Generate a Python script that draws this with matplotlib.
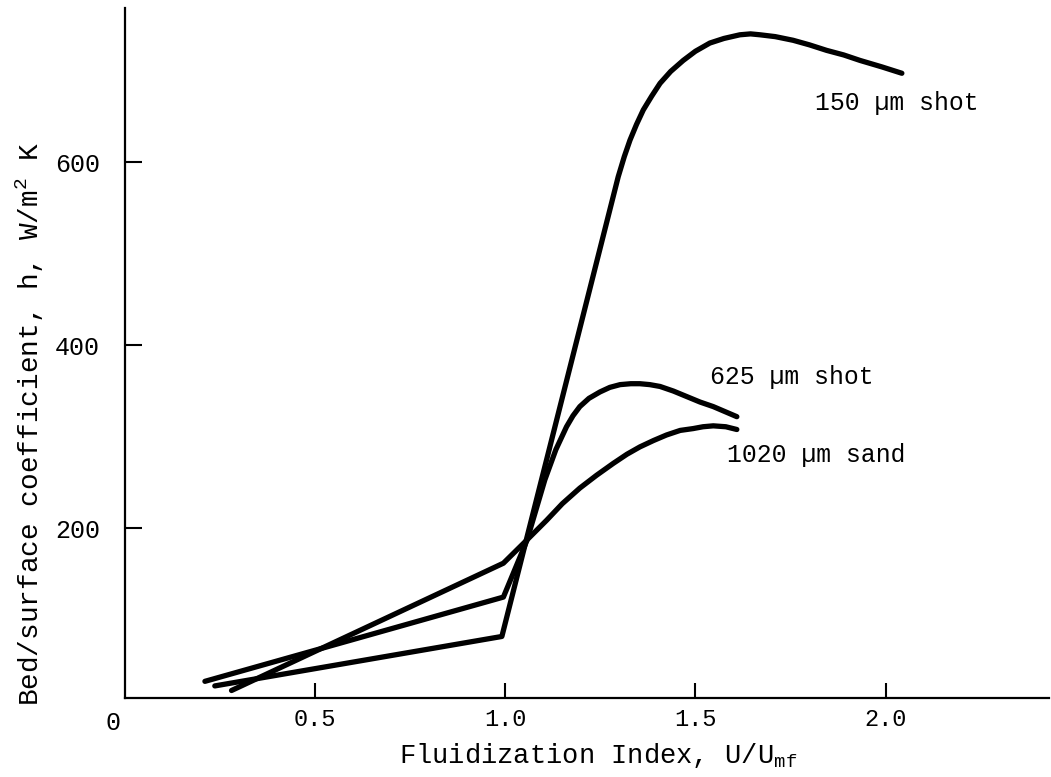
import matplotlib
matplotlib.use("Agg")
import matplotlib.pyplot as plt

plt.rcParams['font.family'] = ['Liberation Mono', 'DejaVu Sans Mono']
plt.rcParams['mathtext.fontset'] = 'custom'
plt.rcParams['mathtext.rm'] = 'Liberation Mono'
plt.rcParams['mathtext.default'] = 'regular'

# heat transfer coefficient vs fluidization index, three bed materials
x_150 = [0.236, 0.991, 1.297, 1.313, 1.328, 1.345, 1.363, 1.385, 1.407, 1.435, 1.468, 1.500,
         1.538, 1.575, 1.617, 1.645, 1.670, 1.710, 1.757, 1.800, 1.845, 1.890, 1.933, 1.990, 2.043]
h_150 = [28, 82, 584, 606, 624, 641, 657, 672, 686, 699, 711, 721,
         730, 735, 739, 740, 739, 737, 733, 728, 722, 717, 711, 704, 697]

x_625 = [0.210, 0.995, 1.057, 1.104, 1.133, 1.161, 1.178, 1.196, 1.220, 1.249, 1.275, 1.302,
         1.330, 1.354, 1.380, 1.407, 1.442, 1.477, 1.512, 1.547, 1.609]
h_625 = [33, 125, 187, 253, 286, 311, 323, 333, 342, 349, 354, 357,
         358, 358, 357, 355, 350, 344, 338, 333, 322]

x_1020 = [0.280, 0.995, 1.056, 1.109, 1.150, 1.196, 1.240, 1.284, 1.320, 1.354, 1.390, 1.424,
          1.460, 1.494, 1.520, 1.547, 1.580, 1.609]
h_1020 = [23, 162, 187, 209, 227, 244, 258, 271, 281, 289, 296, 302,
          307, 309, 311, 312, 311, 308]

curve_labels = ["150 µm shot", "625 µm shot", "1020 µm sand"]
label_x = [1.815, 1.538, 1.583]
label_y = [664, 365, 280]

x_ticks = [0.5, 1.0, 1.5, 2.0]
y_ticks = [200, 400, 600]

fig = plt.figure(figsize=(10.51, 7.77), dpi=100)
ax = fig.add_axes([0.119, 0.1019, 0.8791, 0.8875])

lw = 3.8
for xs, hs in [(x_150, h_150), (x_625, h_625), (x_1020, h_1020)]:
    ax.plot(xs, hs, color='black', lw=lw, solid_joinstyle='round', solid_capstyle='round')

for txt, tx, ty in zip(curve_labels, label_x, label_y):
    ax.text(tx, ty, txt, fontsize=17.8, ha='left', va='center')

ax.set_xlim(0, 2.43)
ax.set_ylim(15, 768)
ax.spines['top'].set_visible(False)
ax.spines['right'].set_visible(False)
ax.spines['left'].set_linewidth(1.6)
ax.spines['bottom'].set_linewidth(1.6)

ax.set_xticks(x_ticks)
ax.set_xticklabels([f"{v:.1f}" for v in x_ticks], fontsize=17)
ax.set_yticks(y_ticks)
ax.set_yticklabels([str(v) for v in y_ticks], fontsize=18)
ax.tick_params(axis='x', direction='in', length=11, width=1.5, pad=7)
ax.tick_params(axis='y', direction='in', length=12, width=1.5, pad=18)

fig.text(113 / 1051, 1 - 723 / 777, "0", fontsize=18, ha='center', va='center')
fig.text(598 / 1051, 1 - 763 / 777, "Fluidization Index, U/U$_{mf}$",
         fontsize=19.5, ha='center', va='baseline')
fig.text(29.5 / 1051, 1 - 423.5 / 777, "Bed/surface coefficient, h, W/m$^{2}$ K",
         fontsize=20, rotation=90, ha='center', va='center')

fig.savefig("out.png", dpi=100, facecolor='white')
